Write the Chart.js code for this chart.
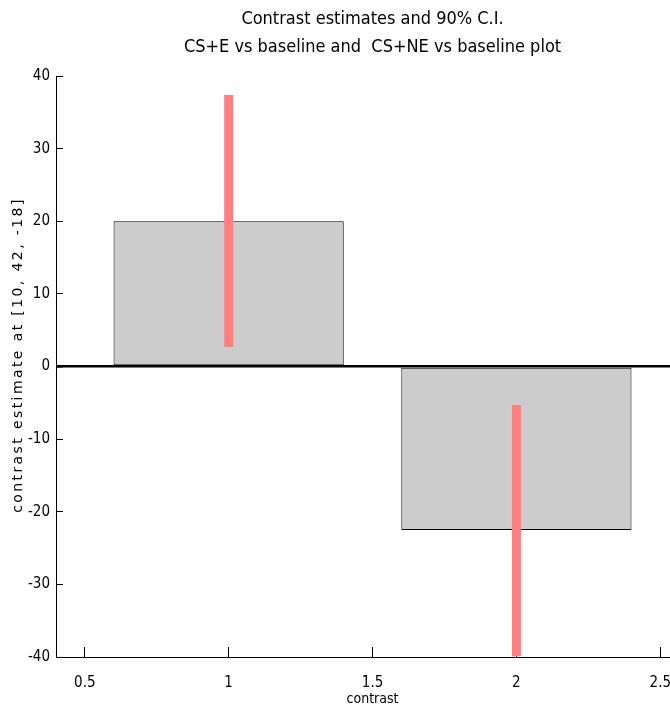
<!DOCTYPE html>
<html>
<head>
<meta charset="utf-8">
<script src="https://cdn.jsdelivr.net/npm/chart.js@4"></script>
<style>
  html, body { margin: 0; padding: 0; background: #fff; overflow: hidden; }
  #wrap { width: 698px; height: 709px; }
</style>
</head>
<body>
<div id="wrap"><canvas id="myChart"></canvas></div>
<script>
// values
var contrasts = [1, 2];
var estimates = [20, -22.5];
var ciLower = [2.7, -39.9];
var ciUpper = [37.4, -5.3];
var xTicks = [0.5, 1, 1.5, 2, 2.5];
var titleLines = ['Contrast estimates and 90% C.I.', 'CS+E vs baseline and  CS+NE vs baseline plot'];
var yLabel = 'contrast estimate at [10, 42, -18]';

var narrow = '"Liberation Sans Narrow", "DejaVu Sans Condensed", "Liberation Sans", sans-serif';
var tickFont = { family: narrow, size: 15 };

// titles drawn by hand so they sit like the matlab ones
var titlePlugin = {
    id: 'plotTitle',
    afterDraw: function(chart) {
        var ctx = chart.ctx;
        var area = chart.chartArea;
        var cx = (area.left + area.right) / 2;
        ctx.save();
        ctx.fillStyle = '#000';
        ctx.textAlign = 'center';
        ctx.textBaseline = 'middle';
        ctx.font = '18px ' + narrow;
        ctx.fillText(titleLines[0], cx, 19);
        ctx.fillText(titleLines[1], cx, 47);

        // y axis label, spaced out a bit
        ctx.translate(18, 355);
        ctx.rotate(-Math.PI / 2);
        ctx.font = '14px "DejaVu Sans", sans-serif';
        ctx.letterSpacing = '2.4px';
        ctx.fillText(yLabel, 0, 0);
        ctx.restore();
    }
};

var datasets = [{
    type: 'bar',
    data: contrasts.map(function(x, i) { return { x: x, y: estimates[i] }; }),
    backgroundColor: '#cccccc',
    borderColor: '#000000',
    borderWidth: 1,
    borderSkipped: false,
    barPercentage: 1.6, // ticks are every 0.5, so this gives bars 0.8 wide
    categoryPercentage: 1.0,
    order: 2
}];

for (var i = 0; i < contrasts.length; i++) {
    datasets.push({
        type: 'line',
        data: [{ x: contrasts[i], y: ciLower[i] }, { x: contrasts[i], y: ciUpper[i] }],
        borderColor: '#ff8080',
        borderWidth: 9,
        borderCapStyle: 'butt',
        pointRadius: 0,
        fill: false,
        order: 1
    });
}

var ctx = document.getElementById('myChart').getContext('2d');
window.myChart = new Chart(ctx, {
    type: 'bar',
    data: { datasets: datasets },
    plugins: [titlePlugin],
    options: {
        responsive: true,
        maintainAspectRatio: false,
        animation: false,
        layout: { padding: { top: 76, left: 0, right: 0, bottom: 0 } },
        plugins: {
            legend: { display: false },
            tooltip: { enabled: false }
        },
        scales: {
            x: {
                type: 'linear',
                min: 0.4,
                max: 2.6,
                offset: false,
                afterBuildTicks: function(scale) {
                    scale.ticks = xTicks.map(function(v) { return { value: v }; });
                },
                afterFit: function(scale) { scale.height = 52; },
                grid: {
                    offset: false,
                    color: 'transparent',
                    tickColor: '#000',
                    tickLength: -10,
                    drawOnChartArea: false
                },
                border: { color: '#000', width: 1 },
                ticks: {
                    color: '#000',
                    font: tickFont,
                    padding: 27,
                    maxRotation: 0,
                    callback: function(v) { return String(v); }
                },
                title: {
                    display: true,
                    text: 'contrast',
                    color: '#000',
                    font: { family: narrow, size: 14 },
                    padding: { top: 0, bottom: 1 }
                }
            },
            y: {
                min: -40,
                max: 40,
                z: 1,
                afterFit: function(scale) { scale.width = 56; },
                grid: {
                    color: function(c) { return c.tick && c.tick.value === 0 ? '#000' : 'transparent'; },
                    lineWidth: function(c) { return c.tick && c.tick.value === 0 ? 2.5 : 1; },
                    tickColor: '#000',
                    tickLength: -7
                },
                border: { color: '#000', width: 1 },
                ticks: {
                    stepSize: 10,
                    color: '#000',
                    font: tickFont,
                    padding: 13
                },
                title: { display: false }
            }
        }
    }
});
</script>
</body>
</html>
